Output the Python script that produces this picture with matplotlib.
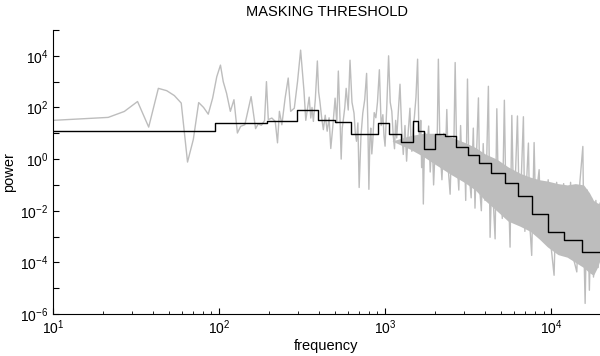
import numpy as np
import matplotlib
matplotlib.use("Agg")
from matplotlib import pyplot as plt

# gray spectrum: frequency (Hz) and log10(power)
spec_f = [10, 21.5, 26.9, 32.3, 37.7, 43.1, 48.4, 53.8, 59.2, 64.6, 70, 75.4, 80.7, 86.1, 91.5, 96.9,
          102, 106, 111, 117, 123, 129, 135, 143, 156, 166, 172, 180, 188, 193, 198, 208, 218, 225,
          231, 239, 250, 261, 270, 284, 297, 310, 325, 333, 341, 349, 357, 363, 370, 380, 391, 398,
          405, 415, 425, 436, 448, 460, 471, 485, 500, 512, 523, 535, 544, 552, 560, 572, 583, 600,
          615, 632, 650, 662, 673, 686, 698, 716, 734, 754, 774, 787, 799, 810, 820, 832, 843, 860,
          880, 900, 924, 947, 970, 985, 1000, 1025, 1050, 1074, 1098, 1120, 1140, 1158, 1175, 1200,
          1230, 1258, 1287, 1318, 1348, 1380, 1412, 1430, 1450, 1475, 1500, 1535, 1570, 1595, 1620,
          1640, 1660, 1680, 1700, 1725, 1750, 1775,
          1800, 1830, 1870, 1920, 1960, 2000, 2050, 2094, 2140, 2200, 2260, 2300, 2354, 2410, 2465,
          2520, 2580, 2643, 2700, 2780, 2850, 2920, 3000, 3060, 3136, 3200, 3300, 3400, 3480, 3560,
          3650, 3720, 3800, 3900, 4000, 4100, 4190, 4290, 4400, 4500, 4600, 4710, 4820, 4950, 5080,
          5230, 5350, 5500, 5660, 5800, 5950, 6100, 6270, 6450, 6600, 6810, 6950, 7100, 7300, 7450,
          7640, 7900, 8100, 8300, 8470, 8700, 9000, 9300, 9600, 10000, 10420, 10800, 11300, 11900,
          12500, 13100, 13700, 14280, 14900, 15530, 15800, 16030, 16500, 17000, 17500, 18000, 18600,
          19200, 19700, 20000]
spec_lp = [1.5, 1.615, 1.846, 2.23, 1.24, 2.74, 2.65, 2.46, 2.17, -0.115, 0.76, 2.19, 2.0, 1.74, 2.36, 3.19,
           3.64, 3.0, 2.55, 1.85, 2.3, 1.01, 1.27, 1.33, 2.42, 1.18, 1.36, 1.31, 1.49, 3.0, 1.53, 1.59, 1.46, 0.63,
           1.85, 1.33, 2.36, 3.14, 1.85, 1.97, 3.0, 4.22, 2.62, 1.5, 1.97, 2.4, 1.59, 2.0, 1.46, 2.3, 3.8, 2.6,
           2.23, 1.6, 1.14, 1.7, 1.08, 1.6, 0.41, 1.3, 2.36, 1.4, 3.41, 1.6, 0.0, 1.2, 1.5, 2.0, 2.74, 1.9,
           3.83, 2.2, 1.78, 1.0, 0.69, 1.4, -1.1, 0.9, 1.78, 2.3, 3.32, 1.5, -1.17, 0.8, 1.2, 0.2, 0.69, 1.8,
           1.6, 2.2, 3.46, 1.3, 1.72, 0.9, 0.5, 2.1, 4.0, 2.2, 1.85, 0.9, 0.4, 1.5, 0.82, 1.8,
           2.9, 1.2, 0.18, 1.3, -0.08, 1.1, 1.97, 0.9, 0.3, 1.2, 1.6, 2.4, 3.87, 1.4, 0.5,
           1.5, -0.33, 0.9, -1.74, 0.4, 1.0, 0.1,
           0.69, 1.28, -0.5, 0.9, -1.0, 0.3, -0.2, 3.87, 0.5, -0.8, 1.0, -0.3, 1.92, -0.5, -1.36,
           0.8, -0.6, 3.74, 0.2, -1.2, 1.3, -0.8, 0.6, -1.6, 3.10, -0.5, -1.5, 1.2, -1.9, 0.3,
           2.37, -1.2, -2.0, 0.6, -1.6, 0.2, 2.82, -3.03, -0.6, -1.9, -3.09, 1.95, -1.5, -0.3, -2.3,
           2.28, -1.8, -0.5, -3.41, 1.69, -1.9, -0.6, 1.67, -2.4, -0.9, 1.64, -2.8, -1.0, 0.62, -2.6,
           -3.73, 0.64, -2.5, -0.9, -0.41, -3.0, -1.0, -3.2, -0.8, -3.4, -4.5, -0.9, -3.6, -0.95,
           -3.7, -0.9, -3.9, -4.37, -0.9, 0.49, -3.8, -5.59, -1.2, -5.08, -1.5, -4.57, -1.6,
           -4.2, -1.7, -3.5]

# dense part of the spectrum (solid gray band)
band_f = [1100, 1400, 1700, 2000, 2500, 3000, 3500, 4000, 4700, 5500, 6500, 7500, 8500, 9500, 11000,
          12500, 14000, 15700, 17000, 18000, 19000, 20000]
band_hi = [0.7, 0.9, 1.0, 1.0, 0.85, 0.65, 0.45, 0.2, 0.0, -0.3, -0.55, -0.7, -0.8, -0.85, -0.95,
           -1.0, -0.95, -1.0, -1.3, -1.6, -1.7, -1.75]
band_lo = [0.7, 0.4, 0.1, -0.2, -0.6, -0.9, -1.2, -1.6, -2.0, -2.4, -2.6, -2.8, -3.1, -3.4, -3.7,
           -3.8, -4.0, -4.2, -4.4, -4.5, -4.2, -3.8]

# masking threshold steps: band start frequency and log10(power)
thr_f = [10, 95, 195, 293, 392, 500, 622, 760, 912, 1062, 1247, 1468, 1575, 1713, 2000, 2297,
         2678, 3150, 3683, 4352, 5271, 6357, 7713, 9545, 11970, 15450, 20000]
thr_lp = [1.10, 1.40, 1.46, 1.92, 1.50, 1.45, 0.98, 0.96, 1.41, 0.99, 0.68, 1.47, 1.08, 0.41, 0.99,
          0.90, 0.47, 0.14, -0.14, -0.54, -0.94, -1.42, -2.13, -2.81, -3.15, -3.58, -3.58]

plt.rcParams['font.family'] = ['Liberation Sans', 'DejaVu Sans']
plt.rcParams['mathtext.fontset'] = 'custom'
plt.rcParams['mathtext.rm'] = 'Liberation Sans'
plt.rcParams['mathtext.it'] = 'Liberation Sans:italic'
plt.rcParams['mathtext.bf'] = 'Liberation Sans:bold'

fig = plt.figure(figsize=(6, 3.56), dpi=100)
ax = fig.add_axes([53 / 600, 42 / 356, 547 / 600, 284 / 356])

gray = '#bdbdbd'
ax.fill_between(band_f, 10 ** np.array(band_lo), 10 ** np.array(band_hi), color=gray, lw=0)
ax.plot(spec_f, 10 ** np.array(spec_lp), color=gray, lw=1)
ax.step(thr_f, 10 ** np.array(thr_lp), where='post', color='black', lw=1)

ax.set_xscale('log')
ax.set_yscale('log')
ax.set_xlim(10, 19700)
ax.set_ylim(1e-6, 1e5)

yt = [10.0 ** k for k in range(-6, 6)]
ax.set_yticks(yt)
ax.set_yticklabels(['$10^{%d}$' % k if k % 2 == 0 else '' for k in range(-6, 6)])
ax.yaxis.set_minor_locator(matplotlib.ticker.NullLocator())
ax.set_xticks([10, 100, 1000, 10000])
ax.set_xticklabels(['$10^{1}$', '$10^{2}$', '$10^{3}$', '$10^{4}$'])
ax.tick_params(which='both', direction='in', labelsize=10)
ax.tick_params(which='major', length=4)
ax.tick_params(which='minor', length=2.5)
ax.spines['top'].set_visible(False)
ax.spines['right'].set_visible(False)

ax.set_title('MASKING THRESHOLD', fontsize=10.5, pad=10)
ax.set_xlabel('frequency', fontsize=10.5, labelpad=1)
ax.set_ylabel('power', fontsize=10.5, labelpad=3)

fig.savefig('out.png', dpi=100)
